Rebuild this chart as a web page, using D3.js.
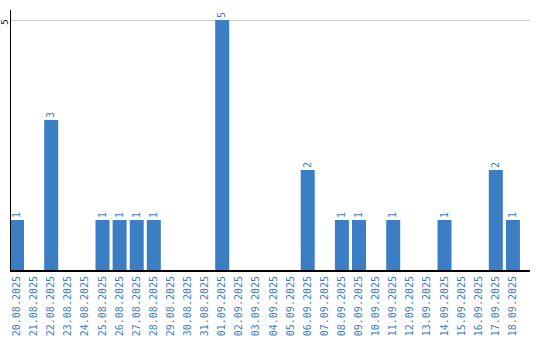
<!DOCTYPE html>
<html>
<head>
<meta charset="utf-8">
<script src="https://cdn.jsdelivr.net/npm/d3@7"></script>
<style>
  body { margin: 0; background: #fff; }
  svg { display: block; }
</style>
</head>
<body>
<svg width="540" height="340"></svg>
<script>
// chart data
const days = ["20.08.2025", "21.08.2025", "22.08.2025", "23.08.2025", "24.08.2025", "25.08.2025",
  "26.08.2025", "27.08.2025", "28.08.2025", "29.08.2025", "30.08.2025", "31.08.2025",
  "01.09.2025", "02.09.2025", "03.09.2025", "04.09.2025", "05.09.2025", "06.09.2025",
  "07.09.2025", "08.09.2025", "09.09.2025", "10.09.2025", "11.09.2025", "12.09.2025",
  "13.09.2025", "14.09.2025", "15.09.2025", "16.09.2025", "17.09.2025", "18.09.2025"];
const counts = [1, 0, 3, 0, 0, 1, 1, 1, 1, 0, 0, 0, 5, 0, 0, 0, 0, 2, 0, 1, 1, 0, 1, 0, 0, 1, 0, 0, 2, 1];
const yTicks = [5];

const svg = d3.select("svg");
const blue = "#3b7ec3";
const plotLeft = 10, plotRight = 530, plotTop = 10, plotBottom = 270;

const x = d3.scaleBand()
  .domain(days)
  .range([plotLeft, plotLeft + days.length * 17])
  .paddingInner(3 / 17)
  .paddingOuter(0)
  .align(0);

const y = d3.scaleLinear()
  .domain([0, 5])
  .range([plotBottom, 20]);

const data = days.map((d, i) => ({ day: d, value: counts[i] }));

// grid
svg.selectAll("line.grid")
  .data(yTicks)
  .enter().append("line")
    .attr("class", "grid")
    .attr("x1", plotLeft).attr("x2", plotRight)
    .attr("y1", (d) => y(d) + 0.5).attr("y2", (d) => y(d) + 0.5)
    .attr("stroke", "#cccccc");

// bars
svg.selectAll("rect.bar")
  .data(data.filter((d) => d.value > 0))
  .enter().append("rect")
    .attr("class", "bar")
    .attr("x", (d) => x(d.day))
    .attr("y", (d) => y(d.value))
    .attr("width", 14)
    .attr("height", (d) => y(0) - y(d.value))
    .attr("fill", blue);

// value labels
svg.selectAll("text.val")
  .data(data.filter((d) => d.value > 0))
  .enter().append("text")
    .attr("class", "val")
    .attr("transform", (d) => `translate(${x(d.day) + 7},${y(d.value) - 2}) rotate(-90)`)
    .attr("dominant-baseline", "middle")
    .attr("font-family", "DejaVu Sans Mono")
    .attr("font-size", 10)
    .attr("fill", blue)
    .text((d) => d.value);

// axes lines
svg.append("line")
  .attr("x1", plotLeft + 0.5).attr("x2", plotLeft + 0.5)
  .attr("y1", plotTop).attr("y2", plotBottom)
  .attr("stroke", "#000");
svg.append("line")
  .attr("x1", plotLeft).attr("x2", plotRight)
  .attr("y1", plotBottom + 1).attr("y2", plotBottom + 1)
  .attr("stroke", "#000")
  .attr("stroke-width", 2);

// y tick label
svg.selectAll("text.ytick")
  .data(yTicks)
  .enter().append("text")
    .attr("class", "ytick")
    .attr("transform", (d) => `translate(5,${y(d) + 2}) rotate(-90)`)
    .attr("text-anchor", "middle")
    .attr("dominant-baseline", "middle")
    .attr("font-family", "DejaVu Sans Mono")
    .attr("font-size", 9)
    .attr("fill", "#000")
    .text((d) => d);

// x labels
svg.selectAll("text.xlab")
  .data(days)
  .enter().append("text")
    .attr("class", "xlab")
    .attr("transform", (d) => `translate(${x(d) + 7},276) rotate(-90)`)
    .attr("text-anchor", "end")
    .attr("dominant-baseline", "middle")
    .attr("font-family", "DejaVu Sans Mono")
    .attr("font-size", 10)
    .attr("fill", blue)
    .text((d) => d);
</script>
</body>
</html>
